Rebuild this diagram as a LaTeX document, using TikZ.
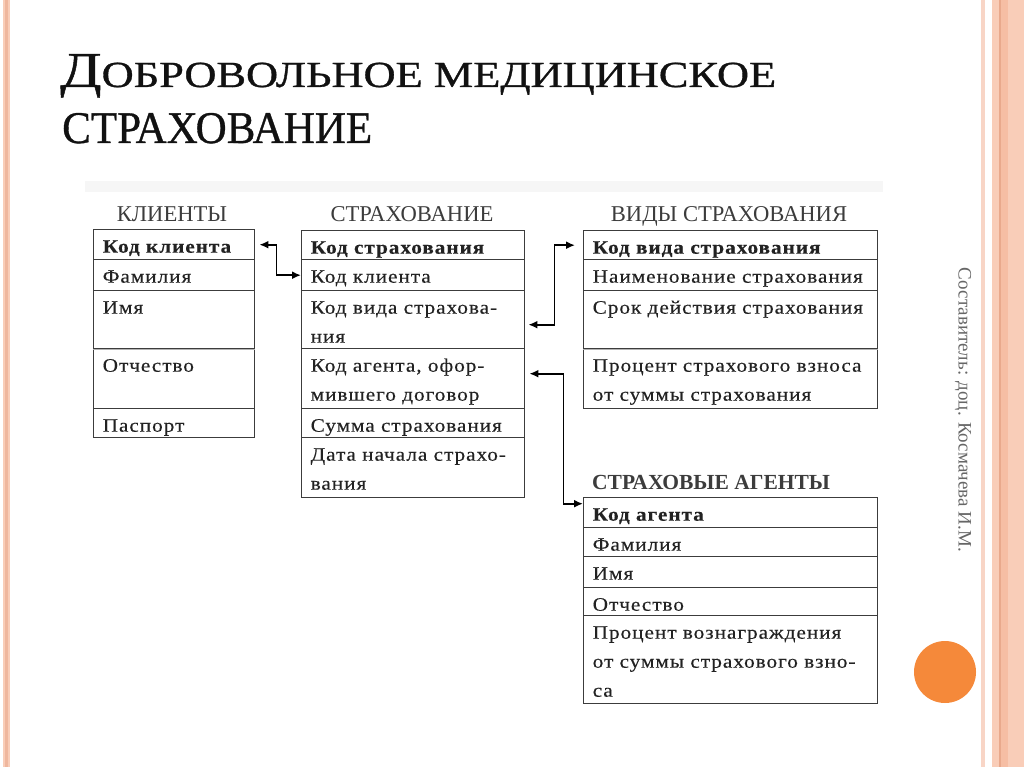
\documentclass[tikz,border=0pt]{standalone}
\usepackage{fontspec}
\usepackage{graphicx}
\setmainfont{Liberation Serif}
\newfontfamily\tabfont[FakeStretch=1.12,LetterSpace=5,FakeBold=0.3]{Liberation Serif}
\newfontfamily\titlefont[FakeBold=0.8]{Liberation Serif}
\usetikzlibrary{arrows.meta}
\definecolor{stripe}{HTML}{F9CDB8}
\definecolor{stripelight}{HTML}{F8D5C6}
\definecolor{stripedark}{HTML}{E9A98C}
\definecolor{stripemid}{HTML}{F6BEA4}
\definecolor{tline}{HTML}{3C3C3C}
\definecolor{tlight}{HTML}{B4B4B4}
\definecolor{tabtext}{HTML}{222222}
\definecolor{hdrtext}{HTML}{3C3C3C}
\definecolor{titletext}{HTML}{111111}
\definecolor{authtext}{HTML}{666666}
\definecolor{dot}{HTML}{F5893A}
\newcommand\tcell[6]{\node[cellbox, minimum width=#4pt, minimum height=#5pt] (#1) at (#2,#3) {\parbox[t][#5pt][t]{\dimexpr#4pt-18pt\relax}{\raggedright\rule{0pt}{23pt}#6}};}
\begin{document}
\begin{tikzpicture}[x=1pt,y=-1pt,
  cellbox/.style={draw=tline, line width=1.4pt, inner xsep=9pt, inner ysep=0pt, anchor=north west, text=tabtext, font=\tabfont\fontsize{19}{29}\selectfont},
  lightsep/.style={draw=tlight, line width=1.4pt},
  conn/.style={line width=1.8pt, {Latex[length=9pt,width=8pt]}-{Latex[length=9pt,width=8pt]}},
  hdr/.style={text=hdrtext, font=\fontsize{22.6}{26}\selectfont, inner sep=0pt, anchor=base},
]
\useasboundingbox (0,0) rectangle (1024,767);
% side stripes
\fill[stripe] (3,0) rectangle (10,767);
\fill[stripedark!60!stripe] (5,0) rectangle (8,767);
\fill[stripelight] (981,0) rectangle (985,767);
\fill[stripe] (992,0) rectangle (1024,767);
\fill[stripemid] (1001,0) rectangle (1008,767);
\fill[stripedark] (999,0) rectangle (1000.5,767);
% title
\node[anchor=base west, inner sep=0pt, text=titletext] (t1) at (60,87) {\resizebox{716pt}{33pt}{\titlefont\fontsize{50}{50}\selectfont Д\fontsize{36.5}{40}\selectfont ОБРОВОЛЬНОЕ МЕДИЦИНСКОЕ}};
\node[anchor=base west, inner sep=0pt, text=titletext] (t2) at (62,143) {\resizebox{310pt}{30pt}{\titlefont\fontsize{45}{50}\selectfont СТРАХОВАНИЕ}};
% light band
\fill[gray!7] (85,181) rectangle (883,192);
% headers
\node[hdr] (hk) at (172,222) {КЛИЕНТЫ};
\node[hdr] (hs) at (412,222) {СТРАХОВАНИЕ};
\node[hdr] (hv) at (729,222) {ВИДЫ СТРАХОВАНИЯ};
\node[hdr, anchor=base west, font=\bfseries\fontsize{21.5}{26}\selectfont] (ha) at (592,489) {СТРАХОВЫЕ АГЕНТЫ};
% clients
\tcell{k1}{93}{229}{161}{30}{\textbf{Код клиента}}
\tcell{k2}{93}{259}{161}{31}{Фамилия}
\tcell{k3}{93}{290}{161}{58}{Имя}
\tcell{k4}{93}{348}{161}{60}{Отчество}
\tcell{k5}{93}{408}{161}{29}{Паспорт}
% insurance
\tcell{s1}{301}{230}{223}{29}{\textbf{Код страхования}}
\tcell{s2}{301}{259}{223}{31}{Код клиента}
\tcell{s3}{301}{290}{223}{58}{Код вида страхова-\\ния}
\tcell{s4}{301}{348}{223}{60}{Код агента, офор-\\мившего договор}
\tcell{s5}{301}{408}{223}{29}{Сумма страхования}
\tcell{s6}{301}{437}{223}{60}{Дата начала страхо-\\вания}
% kinds
\tcell{v1}{583}{230}{294}{29}{\textbf{Код вида страхования}}
\tcell{v2}{583}{259}{294}{31}{Наименование страхования}
\tcell{v3}{583}{290}{294}{58}{Срок действия страхования}
\tcell{v4}{583}{348}{294}{60}{Процент страхового взноса\\от суммы страхования}
% agents
\tcell{a1}{583}{497}{294}{30}{\textbf{Код агента}}
\tcell{a2}{583}{527}{294}{29}{Фамилия}
\tcell{a3}{583}{556}{294}{31}{Имя}
\tcell{a4}{583}{587}{294}{28}{Отчество}
\tcell{a5}{583}{615}{294}{88}{Процент вознаграждения\\от суммы страхового взно-\\са}
% lighter separators
\draw[lightsep] (k3.south west) -- (k3.south east);
\draw[lightsep] (v3.south west) -- (v3.south east);
% connectors
\draw[conn] ([xshift=4pt]k1.east) -- ++(17,0) |- (s2.west);
\draw[conn] ([xshift=3pt,yshift=-5pt]s3.east) -- ++(26,0) |- ([xshift=-8pt]v1.west);
\draw[conn] ([xshift=4pt,yshift=5pt]s4.east) -- ++(34,0) |- ([yshift=9pt]a1.west);
% author and dot
\node[rotate=-90, text=authtext, inner sep=0pt] (auth) at (963,410) {\resizebox{284pt}{!}{\fontsize{18}{20}\selectfont Составитель: доц. Космачева И.М.}};
\fill[dot] (945,672) circle (31pt);
\end{tikzpicture}
\end{document}
